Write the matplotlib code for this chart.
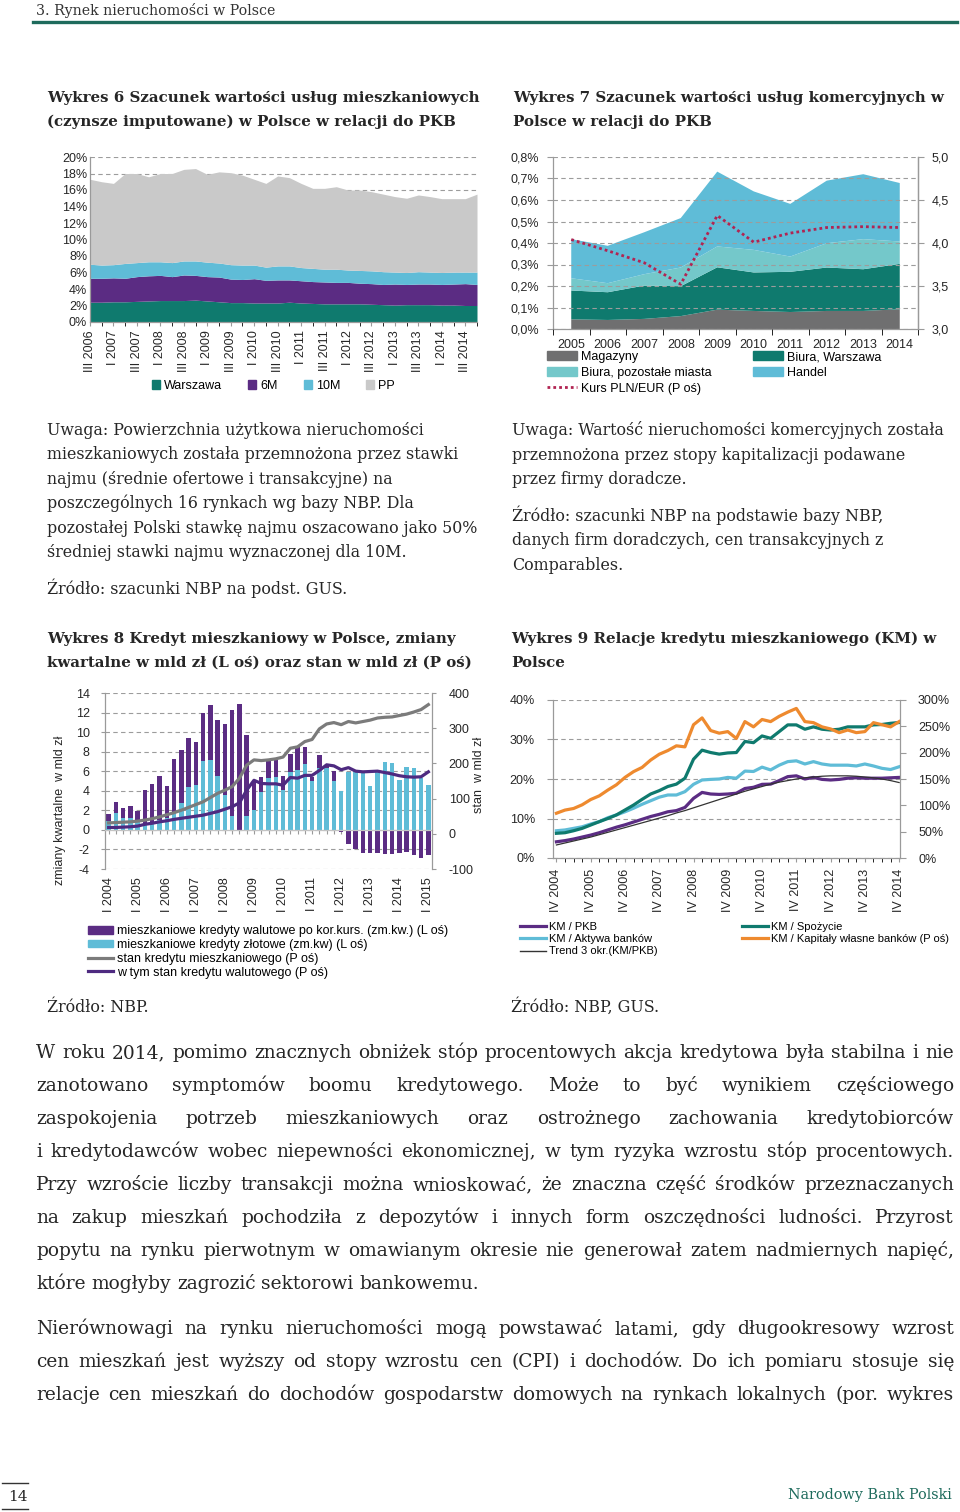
import numpy as np
import matplotlib
matplotlib.use('Agg')
import matplotlib.pyplot as plt
from matplotlib.lines import Line2D
from matplotlib.patches import Patch

# --- Wykres 6: granice pasm (skumulowane, % PKB), kwartalnie III 2006 - IV 2014
kwartaly6 = ['III 2006', 'I 2007', 'III 2007', 'I 2008', 'III 2008', 'I 2009', 'III 2009',
             'I 2010', 'III 2010', 'I 2011', 'III 2011', 'I 2012', 'III 2012', 'I 2013',
             'III 2013', 'I 2014', 'III 2014']
gr_warszawa = [2.4, 2.4, 2.45, 2.45, 2.5, 2.55, 2.6, 2.6, 2.6, 2.65, 2.55, 2.45, 2.35, 2.35, 2.3, 2.3, 2.3,
               2.4, 2.3, 2.25, 2.2, 2.2, 2.2, 2.2, 2.15, 2.1, 2.05, 2.1, 2.1, 2.1, 2.05, 2.05, 2.0, 2.0]
gr_6m = [5.3, 5.3, 5.35, 5.3, 5.5, 5.6, 5.65, 5.5, 5.7, 5.65, 5.5, 5.45, 5.2, 5.15, 5.25, 5.05, 5.1,
         5.1, 5.0, 4.9, 4.85, 4.8, 4.8, 4.7, 4.65, 4.55, 4.6, 4.55, 4.6, 4.6, 4.55, 4.6, 4.65, 4.55]
gr_10m = [7.0, 6.9, 6.95, 7.1, 7.2, 7.3, 7.3, 7.2, 7.4, 7.4, 7.25, 7.15, 6.95, 6.9, 6.9, 6.65, 6.8,
          6.8, 6.6, 6.5, 6.4, 6.4, 6.3, 6.25, 6.2, 6.1, 6.05, 6.0, 6.1, 6.05, 6.0, 6.05, 6.05, 6.05]
gr_pp = [17.3, 17.0, 16.8, 18.0, 18.0, 17.6, 18.0, 18.0, 18.5, 18.6, 17.9, 18.2, 18.1, 17.8, 17.3, 16.8, 17.7,
         17.5, 16.8, 16.2, 16.2, 16.4, 16.0, 16.0, 15.8, 15.5, 15.2, 15.0, 15.4, 15.2, 14.95, 14.95, 14.95, 15.5]

# --- Wykres 7: % PKB, roczne
lata7 = ['2005', '2006', '2007', '2008', '2009', '2010', '2011', '2012', '2013', '2014']
magazyny = [0.045, 0.042, 0.047, 0.060, 0.090, 0.084, 0.079, 0.084, 0.084, 0.092]
biura_waw = [0.134, 0.129, 0.155, 0.139, 0.197, 0.179, 0.187, 0.202, 0.194, 0.211]
biura_poz = [0.057, 0.042, 0.053, 0.087, 0.097, 0.105, 0.071, 0.113, 0.140, 0.104]
handel = [0.182, 0.174, 0.195, 0.230, 0.348, 0.272, 0.245, 0.291, 0.302, 0.272]
kurs = [4.04, 3.91, 3.77, 3.52, 4.32, 4.01, 4.115, 4.18, 4.19, 4.18]

# --- Wykres 8: mld zł, kwartalnie I 2004 - I 2015
kwartaly8 = ['I 2004', 'I 2005', 'I 2006', 'I 2007', 'I 2008', 'I 2009', 'I 2010', 'I 2011',
             'I 2012', 'I 2013', 'I 2014', 'I 2015']
zlote = [0.9, 1.7, 1.2, 1.25, 0.95, 0.5, 0.7, 1.0, 1.2, 1.7, 2.75, 4.4, 4.6, 7.05, 7.1, 5.55, 3.6, 1.45,
         0.0, 1.45, 2.05, 3.85, 5.3, 5.4, 4.1, 5.9, 6.15, 6.7, 5.0, 6.35, 6.3, 4.95, 4.0, 5.9, 6.0, 5.8,
         4.45, 5.9, 6.9, 6.8, 5.15, 6.4, 6.3, 5.3, 4.55]
walutowe = [0.75, 1.15, 1.0, 1.2, 1.0, 3.55, 4.0, 4.55, 3.25, 5.5, 5.45, 5.0, 4.4, 4.95, 5.7, 5.65, 7.2,
            10.85, 12.9, 8.3, 2.95, 1.55, 1.7, 1.7, 1.45, 1.9, 2.4, 1.8, 0.4, 1.35, 0.3, 1.05, -0.25,
            -1.45, -2.0, -2.35, -2.4, -2.4, -2.45, -2.45, -2.4, -2.3, -2.55, -2.85, -2.55]
stan_kredytu = [31, 32, 33, 34, 36, 39, 43, 48, 54, 60, 67, 75, 83, 91, 103, 115, 124, 134, 158, 195, 210,
                208, 210, 213, 218, 243, 247, 262, 268, 298, 312, 316, 310, 319, 315, 319, 323, 329,
                331, 332, 336, 340, 346, 353, 367]
stan_walutowy = [18, 18, 19, 20, 22, 27, 30, 34, 37, 41, 44, 47, 50, 53, 58, 63, 70, 77, 88, 124, 152,
                 143, 142, 142, 138, 160, 158, 166, 166, 180, 196, 193, 182, 188, 178, 176, 177, 178,
                 174, 170, 165, 162, 161, 162, 176]

# --- Wykres 9: %, kwartalnie IV 2004 - IV 2014
kwartaly9 = ['IV 2004', 'IV 2005', 'IV 2006', 'IV 2007', 'IV 2008', 'IV 2009', 'IV 2010',
             'IV 2011', 'IV 2012', 'IV 2013', 'IV 2014']
km_pkb = [4.1, 4.4, 4.8, 5.3, 5.8, 6.4, 7.1, 7.8, 8.4, 9.1, 9.8, 10.5, 11.05, 11.7, 12.0, 12.8, 15.1,
          16.6, 16.2, 16.1, 16.2, 16.4, 17.6, 17.9, 18.65, 18.7, 19.6, 20.6, 20.8, 20.0, 20.4, 19.9,
          19.75, 19.9, 20.2, 20.3, 20.2, 20.2, 20.2, 20.3, 20.4]
km_trend = [3.3, 3.8, 4.3, 4.8, 5.3, 5.9, 6.5, 7.1, 7.7, 8.3, 8.9, 9.5, 10.1, 10.7, 11.4, 12.0, 12.7,
            13.4, 14.1, 14.8, 15.5, 16.2, 16.9, 17.5, 18.1, 18.7, 19.2, 19.6, 20.0, 20.3, 20.5, 20.7,
            20.8, 20.8, 20.8, 20.7, 20.5, 20.3, 20.0, 19.6, 19.1]
km_aktywa = [6.9, 7.1, 7.5, 7.9, 8.6, 9.2, 10.2, 10.9, 11.7, 12.6, 13.6, 14.5, 15.4, 15.95, 15.95, 16.8,
             18.65, 19.75, 19.9, 20.0, 20.4, 20.2, 22.0, 21.9, 23.0, 22.3, 23.5, 24.4, 24.6, 23.8, 24.4,
             23.8, 23.5, 23.5, 23.5, 23.3, 23.8, 23.3, 22.7, 22.4, 23.1]
km_spozycie = [6.25, 6.4, 6.9, 7.5, 8.35, 9.2, 10.0, 10.9, 12.15, 13.4, 14.85, 16.2, 17.05, 18.1, 18.7,
               20.2, 25.0, 27.3, 26.7, 26.3, 26.6, 26.7, 29.5, 29.2, 30.9, 30.3, 32.0, 33.7, 33.7, 32.6,
               33.2, 32.6, 32.4, 32.6, 33.2, 33.2, 33.2, 33.7, 33.8, 34.1, 34.3]
km_kapitaly = [85, 91, 94, 101, 111, 118, 129, 139, 153, 164, 172, 186, 197, 204, 213, 211, 253, 266, 242,
               237, 240, 227, 259, 249, 263, 259, 269, 277, 284, 259, 257, 249, 245, 238, 243, 238, 240,
               257, 253, 249, 259]

# kolory
TEAL = '#0f7a6e'
PURPLE = '#5b2c83'
CYAN = '#5fbcd7'
LTEAL = '#74c8ca'
LGRAY = '#c9c9c9'
DGRAY = '#6f6f70'
ORANGE = '#ee8a2f'
CRIMSON = '#b12452'
AXC = '#9a9a9a'
TXT = '#262626'
NBP = '#1e6b5c'
SERIF = 'DejaVu Serif'
FS = 9

W, H = 960, 1512
plt.rcParams['font.family'] = ['Liberation Sans', 'DejaVu Sans']
plt.rcParams['axes.unicode_minus'] = False
fig = plt.figure(figsize=(9.6, 15.12), dpi=100)
renderer = fig.canvas.get_renderer()


def box(l, t, r, b):
    return fig.add_axes([l / W, 1 - b / H, (r - l) / W, (b - t) / H])


def fx(x):
    return x / W


def fy(y):
    return 1 - y / H


def width_px(s, size, weight='normal'):
    t = fig.text(0, 0, s, fontsize=size, family=SERIF, weight=weight)
    w = t.get_window_extent(renderer).width
    t.remove()
    return w


def fit(s, target, weight='normal'):
    return 10 * target / width_px(s, 10, weight)


def justify(line, y, size, x0=36, x1=954, last=False):
    words = line.split()
    ws = [width_px(w, size) for w in words]
    if last:
        gap = width_px('a a', size) - width_px('aa', size)
    else:
        gap = (x1 - x0 - sum(ws)) / (len(words) - 1)
    x = x0
    for w, wd in zip(words, ws):
        fig.text(fx(x), fy(y), w, fontsize=size, family=SERIF, color=TXT, va='baseline')
        x += wd + gap


def style_axes(ax, sides=('left', 'bottom')):
    for s in ax.spines:
        ax.spines[s].set_visible(s in sides)
        ax.spines[s].set_color(AXC)
        ax.spines[s].set_linewidth(0.9)
    ax.tick_params(colors=AXC, labelcolor=TXT, labelsize=FS)


def grid(ax):
    ax.yaxis.grid(True, ls=(0, (4, 3)), color='#9c9c9c', lw=0.8)


# ---------------- nagłówek strony
fig.text(fx(36), fy(15), '3. Rynek nieruchomości w Polsce', family=SERIF, color='#333333',
         fontsize=fit('3. Rynek nieruchomości w Polsce', 238), va='baseline')
fig.add_artist(Line2D([fx(33), fx(957)], [fy(22), fy(22)], color=NBP, lw=2.4))

# ---------------- tytuły wykresów
tsize = fit('Wykres 6 Szacunek wartości usług mieszkaniowych', 433, 'bold')
tytuly = [(47, 102, 'Wykres 6 Szacunek wartości usług mieszkaniowych'),
          (47, 126, '(czynsze imputowane) w Polsce w relacji do PKB'),
          (513, 102, 'Wykres 7 Szacunek wartości usług komercyjnych w'),
          (513, 126, 'Polsce w relacji do PKB'),
          (47, 643, 'Wykres 8 Kredyt mieszkaniowy w Polsce, zmiany'),
          (47, 667, 'kwartalne w mld zł (L oś) oraz stan w mld zł (P oś)'),
          (511, 643, 'Wykres 9 Relacje kredytu mieszkaniowego (KM) w'),
          (511, 667, 'Polsce')]
for x, y, s in tytuly:
    fig.text(fx(x), fy(y), s, family=SERIF, weight='bold', fontsize=tsize, color=TXT, va='baseline')

# ---------------- Wykres 6
ax6 = box(90, 157, 477, 322)
x6 = np.arange(len(gr_pp))
ax6.fill_between(x6, 0, gr_warszawa, color=TEAL, lw=0, zorder=2)
ax6.fill_between(x6, gr_warszawa, gr_6m, color=PURPLE, lw=0, zorder=2)
ax6.fill_between(x6, gr_6m, gr_10m, color=CYAN, lw=0, zorder=2)
ax6.fill_between(x6, gr_10m, gr_pp, color=LGRAY, lw=0, zorder=2)
ax6.set_xlim(0, len(x6) - 1)
ax6.set_ylim(0, 20)
ax6.set_yticks(range(0, 21, 2))
ax6.set_yticklabels([f'{v}%' for v in range(0, 21, 2)])
ax6.set_xticks(x6[::2])
ax6.set_xticklabels(kwartaly6, rotation=90)
ax6.set_xticks(x6, minor=True)
style_axes(ax6)
grid(ax6)
ax6.set_axisbelow(True)
ax6.tick_params(axis='y', length=0, pad=2)
ax6.tick_params(axis='x', which='both', length=3, pad=3)
fig.legend(handles=[Patch(color=c) for c in (TEAL, PURPLE, CYAN, LGRAY)],
           labels=['Warszawa', '6M', '10M', 'PP'], loc='center left',
           bbox_to_anchor=(fx(152), fy(386)), ncol=4, frameon=False, fontsize=FS,
           handlelength=0.65, handleheight=0.65, handletextpad=0.3, columnspacing=2.1,
           borderpad=0, borderaxespad=0)

# ---------------- Wykres 7
ax7 = box(553, 157, 918, 329)
x7 = np.arange(len(lata7))
ax7.stackplot(x7, magazyny, biura_waw, biura_poz, handel,
              colors=[DGRAY, TEAL, LTEAL, CYAN], lw=0, zorder=1)
ax7.set_xlim(-0.5, len(x7) - 0.5)
ax7.set_ylim(0, 0.8)
t7 = np.arange(0, 0.81, 0.1)
ax7.set_yticks(t7)
ax7.set_yticklabels([f'{v:.1f}%'.replace('.', ',') for v in t7])
ax7.set_xticks(x7)
ax7.set_xticklabels(lata7)
ax7.set_xticks(np.arange(-0.5, len(x7)), minor=True)
style_axes(ax7, ('left', 'bottom', 'right'))
grid(ax7)
ax7.set_axisbelow(False)
ax7.tick_params(axis='x', which='major', length=0, pad=7)
ax7.tick_params(axis='x', which='minor', length=4)
ax7.tick_params(axis='y', length=4, pad=6)
ax7r = ax7.twinx()
ax7r.plot(x7, kurs, color=CRIMSON, lw=2.0, ls=(0, (1, 1.1)))
ax7r.set_ylim(3.0, 5.0)
t7r = np.arange(3.0, 5.01, 0.5)
ax7r.set_yticks(t7r)
ax7r.set_yticklabels([f'{v:.1f}'.replace('.', ',') for v in t7r])
style_axes(ax7r, ('right',))
ax7r.tick_params(axis='y', length=4, pad=6)
leg_kw = dict(loc='upper left', frameon=False, borderpad=0, borderaxespad=0, handletextpad=0.3)
fig.legend(handles=[Patch(color=DGRAY), Patch(color=LTEAL),
                    Line2D([], [], color=CRIMSON, lw=2.0, ls=(0, (1, 1.1)))],
           labels=['Magazyny', 'Biura, pozostałe miasta', 'Kurs PLN/EUR (P oś)'],
           bbox_to_anchor=(fx(547), fy(351)), fontsize=FS, handlelength=2.4, handleheight=0.65,
           labelspacing=0.31, **leg_kw)
fig.legend(handles=[Patch(color=TEAL), Patch(color=CYAN)],
           labels=['Biura, Warszawa', 'Handel'],
           bbox_to_anchor=(fx(753), fy(351)), fontsize=FS, handlelength=2.4, handleheight=0.65,
           labelspacing=0.31, **leg_kw)

# ---------------- Wykres 8
ax8 = box(105, 693, 432, 869)
x8 = np.arange(len(zlote))
zl = np.array(zlote)
wal = np.array(walutowe)
ax8.bar(x8, zl, 0.62, color=CYAN, zorder=2)
ax8.bar(x8, wal, 0.62, bottom=np.where(wal > 0, zl, 0), color=PURPLE, zorder=2)
ax8.set_xlim(-0.5, len(x8) - 0.5)
ax8.set_ylim(-4, 14)
ax8.set_yticks(range(-4, 15, 2))
style_axes(ax8, ('left', 'bottom'))
ax8.spines['bottom'].set_position(('data', 0))
ax8.spines['bottom'].set_color('#c4c4c4')
grid(ax8)
ax8.set_axisbelow(True)
ax8.set_xticks(x8)
ax8.tick_params(axis='x', length=3, labelbottom=False)
ax8.tick_params(axis='y', length=3, pad=8)
sec8 = ax8.secondary_xaxis(0)
sec8.set_xticks(x8[::4])
sec8.set_xticklabels(kwartaly8, rotation=90)
sec8.tick_params(length=0, pad=6, labelsize=FS, labelcolor=TXT)
for s in sec8.spines.values():
    s.set_visible(False)
ax8.set_ylabel('zmiany kwartalne  w mld zł', fontsize=FS, color=TXT)
ax8.yaxis.set_label_coords(-0.12, 0.335)
ax8r = ax8.twinx()
ax8r.plot(x8, stan_kredytu, color='#7b7b7b', lw=2.3)
ax8r.plot(x8, stan_walutowy, color='#4e2a80', lw=2.3)
ax8r.set_ylim(-100, 400)
ax8r.set_yticks(range(-100, 401, 100))
style_axes(ax8r, ('right',))
ax8r.tick_params(axis='y', length=3, pad=9)
ax8r.set_ylabel('stan  w mld zł', fontsize=FS, color=TXT)
ax8r.yaxis.set_label_coords(1.125, 0.534)
fig.legend(handles=[Patch(color=PURPLE), Patch(color=CYAN),
                    Line2D([], [], color='#7b7b7b', lw=2.3), Line2D([], [], color='#4e2a80', lw=2.3)],
           labels=['mieszkaniowe kredyty walutowe po kor.kurs. (zm.kw.) (L oś)',
                   'mieszkaniowe kredyty złotowe (zm.kw) (L oś)',
                   'stan kredytu mieszkaniowego (P oś)',
                   'w tym stan kredytu walutowego (P oś)'],
           bbox_to_anchor=(fx(88), fy(925)), fontsize=FS, handlelength=2.0, handleheight=0.6,
           labelspacing=0.15, **leg_kw)

# ---------------- Wykres 9
ax9 = box(553, 700, 900, 858)
x9 = np.arange(len(km_pkb))
ax9.plot(x9, km_aktywa, color=CYAN, lw=2.3, zorder=3)
ax9.plot(x9, km_spozycie, color=TEAL, lw=2.3, zorder=3)
ax9.plot(x9, km_pkb, color=PURPLE, lw=2.3, zorder=3)
ax9.plot(x9, km_trend, color='#333333', lw=0.9, zorder=4)
ax9.set_xlim(-0.4, len(x9) - 0.9)
ax9.set_ylim(0, 40)
ax9.set_yticks(range(0, 41, 10))
ax9.set_yticklabels([f'{v}%' for v in range(0, 41, 10)])
ax9.set_xticks(x9[::4])
ax9.set_xticklabels(kwartaly9, rotation=90)
ax9.set_xticks(x9, minor=True)
style_axes(ax9, ('left', 'bottom'))
grid(ax9)
ax9.set_axisbelow(True)
ax9.tick_params(axis='x', which='both', length=3, pad=5)
ax9.tick_params(axis='y', length=4, pad=9)
ax9r = ax9.twinx()
ax9r.plot(x9, km_kapitaly, color=ORANGE, lw=2.3)
ax9r.set_ylim(0, 300)
ax9r.set_yticks(range(0, 301, 50))
ax9r.set_yticklabels([f'{v}%' for v in range(0, 301, 50)])
style_axes(ax9r, ('right',))
ax9r.tick_params(axis='y', length=4, pad=9)
fig.legend(handles=[Line2D([], [], color=PURPLE, lw=2.3), Line2D([], [], color=CYAN, lw=2.3),
                    Line2D([], [], color='#333333', lw=1.0)],
           labels=['KM / PKB', 'KM / Aktywa banków', 'Trend 3 okr.(KM/PKB)'],
           bbox_to_anchor=(fx(520), fy(922)), fontsize=8, handlelength=2.3,
           labelspacing=0.2, **leg_kw)
fig.legend(handles=[Line2D([], [], color=TEAL, lw=2.3), Line2D([], [], color=ORANGE, lw=2.3)],
           labels=['KM / Spożycie', 'KM / Kapitały własne banków (P oś)'],
           bbox_to_anchor=(fx(742), fy(922)), fontsize=8, handlelength=2.3,
           labelspacing=0.2, **leg_kw)

# ---------------- uwagi i źródła
nsize = fit('pozostałej Polski stawkę najmu oszacowano jako 50%', 431)
uwagi = [(47, 430, 'Uwaga: Powierzchnia użytkowa nieruchomości'),
         (47, 454, 'mieszkaniowych została przemnożona przez stawki'),
         (47, 479, 'najmu (średnie ofertowe i transakcyjne) na'),
         (47, 503, 'poszczególnych 16 rynkach wg bazy NBP. Dla'),
         (47, 528, 'pozostałej Polski stawkę najmu oszacowano jako 50%'),
         (47, 552, 'średniej stawki najmu wyznaczonej dla 10M.'),
         (47, 589, 'Źródło: szacunki NBP na podst. GUS.'),
         (512, 430, 'Uwaga: Wartość nieruchomości komercyjnych została'),
         (512, 455, 'przemnożona przez stopy kapitalizacji podawane'),
         (512, 479, 'przez firmy doradcze.'),
         (512, 516, 'Źródło: szacunki NBP na podstawie bazy NBP,'),
         (512, 540, 'danych firm doradczych, cen transakcyjnych z'),
         (512, 565, 'Comparables.'),
         (47, 1007, 'Źródło: NBP.'),
         (511, 1007, 'Źródło: NBP, GUS.')]
for x, y, s in uwagi:
    fig.text(fx(x), fy(y + 5), s, family=SERIF, fontsize=nsize, color=TXT, va='baseline')

# ---------------- tekst główny (wyjustowany)
akapit1 = ['W roku 2014, pomimo znacznych obniżek stóp procentowych akcja kredytowa była stabilna i nie',
           'zanotowano symptomów boomu kredytowego. Może to być wynikiem częściowego',
           'zaspokojenia potrzeb mieszkaniowych oraz ostrożnego zachowania kredytobiorców',
           'i kredytodawców wobec niepewności ekonomicznej, w tym ryzyka wzrostu stóp procentowych.',
           'Przy wzroście liczby transakcji można wnioskować, że znaczna część środków przeznaczanych',
           'na zakup mieszkań pochodziła z depozytów i innych form oszczędności ludności. Przyrost',
           'popytu na rynku pierwotnym w omawianym okresie nie generował zatem nadmiernych napięć,',
           'które mogłyby zagrozić sektorowi bankowemu.']
akapit2 = ['Nierównowagi na rynku nieruchomości mogą powstawać latami, gdy długookresowy wzrost',
           'cen mieszkań jest wyższy od stopy wzrostu cen (CPI) i dochodów. Do ich pomiaru stosuje się',
           'relacje cen mieszkań do dochodów gospodarstw domowych na rynkach lokalnych (por. wykres']
bsize = fit('które mogłyby zagrozić sektorowi bankowemu.', 449)
bsize = min(bsize, min(fit(s, 912) for s in akapit1[:-1] + akapit2))
for i, s in enumerate(akapit1):
    justify(s, 1058 + 33 * i, bsize, last=(i == len(akapit1) - 1))
for i, s in enumerate(akapit2):
    justify(s, 1334 + 33 * i, bsize)

# ---------------- stopka
fig.add_artist(Line2D([fx(2), fx(28)], [fy(1483), fy(1483)], color='#333333', lw=1.0))
fig.add_artist(Line2D([fx(2), fx(28)], [fy(1509), fy(1509)], color='#333333', lw=1.0))
fig.text(fx(18), fy(1501), '14', family=SERIF, fontsize=11, color=TXT, ha='center', va='baseline')
fig.text(fx(952), fy(1499), 'Narodowy Bank Polski', family=SERIF, color=NBP,
         fontsize=fit('Narodowy Bank Polski', 165), ha='right', va='baseline')

fig.savefig('out.png', dpi=100, facecolor='white')
